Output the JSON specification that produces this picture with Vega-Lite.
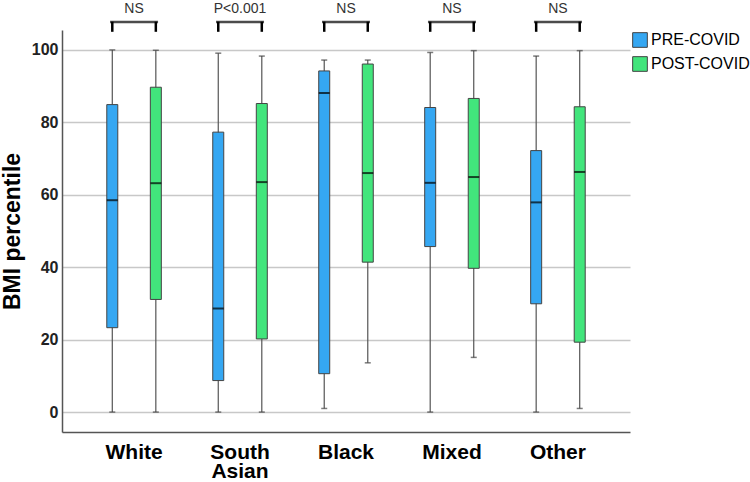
{
  "$schema": "https://vega.github.io/schema/vega-lite/v6.json",
  "width": 568,
  "height": 402,
  "autosize": "none",
  "padding": {"left": 62, "top": 30, "right": 120, "bottom": 50},
  "background": "white",
  "config": {
    "view": {"stroke": null},
    "font": "Liberation Sans"
  },
  "datasets": {
    "stats": [
      {"group": "White", "period": "PRE-COVID", "min": 0, "q1": 23.3, "median": 58.5, "q3": 84.9, "max": 100},
      {"group": "White", "period": "POST-COVID", "min": 0, "q1": 31.1, "median": 63.2, "q3": 89.7, "max": 99.9},
      {"group": "South Asian", "period": "PRE-COVID", "min": 0, "q1": 8.7, "median": 28.6, "q3": 77.3, "max": 99.1},
      {"group": "South Asian", "period": "POST-COVID", "min": 0, "q1": 20.2, "median": 63.5, "q3": 85.2, "max": 98.3},
      {"group": "Black", "period": "PRE-COVID", "min": 1.0, "q1": 10.6, "median": 88.1, "q3": 94.2, "max": 97.2},
      {"group": "Black", "period": "POST-COVID", "min": 13.6, "q1": 41.4, "median": 66.0, "q3": 96.1, "max": 97.2},
      {"group": "Mixed", "period": "PRE-COVID", "min": 0, "q1": 45.7, "median": 63.3, "q3": 84.1, "max": 99.3},
      {"group": "Mixed", "period": "POST-COVID", "min": 15.1, "q1": 39.7, "median": 64.9, "q3": 86.6, "max": 99.8},
      {"group": "Other", "period": "PRE-COVID", "min": 0, "q1": 29.9, "median": 57.9, "q3": 72.2, "max": 98.3},
      {"group": "Other", "period": "POST-COVID", "min": 1.0, "q1": 19.3, "median": 66.3, "q3": 84.3, "max": 99.8}
    ],
    "sig": [
      {"group": "White", "label": "NS"},
      {"group": "South Asian", "label": "P<0.001"},
      {"group": "Black", "label": "NS"},
      {"group": "Mixed", "label": "NS"},
      {"group": "Other", "label": "NS"}
    ]
  },
  "encoding": {
    "x": {
      "field": "group",
      "type": "nominal",
      "sort": ["White", "South Asian", "Black", "Mixed", "Other"],
      "scale": {"paddingInner": 0, "paddingOuter": 0.18},
      "axis": {
        "title": null,
        "labelAngle": 0,
        "labelFontSize": 21,
        "labelFontWeight": "bold",
        "labelColor": "black",
        "labelPadding": 9,
        "labelLineHeight": 19,
        "labelExpr": "split(datum.label, ' ')",
        "ticks": false,
        "domainColor": "#555555",
        "domainWidth": 1.5,
        "grid": false
      }
    }
  },
  "layer": [
    {
      "data": {"name": "stats"},
      "encoding": {
        "xOffset": {"field": "period", "type": "nominal", "sort": ["PRE-COVID", "POST-COVID"], "scale": {"paddingInner": 0, "paddingOuter": 0.217}}
      },
      "layer": [
        {
          "mark": {"type": "rule", "color": "#555555", "strokeWidth": 1.2},
          "encoding": {
            "y": {
              "field": "min",
              "type": "quantitative",
              "scale": {"domain": [-5.5, 105.5], "nice": false, "zero": false},
              "axis": {
                "values": [0, 20, 40, 60, 80, 100],
                "title": "BMI percentile",
                "titleFontSize": 23,
                "titleFontWeight": "bold",
                "titleColor": "black",
                "titlePadding": 7,
                "labelFontSize": 16,
                "labelFontWeight": "bold",
                "labelColor": "#222222",
                "labelPadding": 4,
                "ticks": false,
                "grid": true,
                "gridColor": "#c8c8c8",
                "gridWidth": 1.5,
                "domainColor": "#555555",
                "domainWidth": 1.5
              }
            },
            "y2": {"field": "max"}
          }
        },
        {
          "mark": {"type": "tick", "color": "#444444", "size": 6, "thickness": 1.5},
          "encoding": {"y": {"field": "max", "type": "quantitative"}}
        },
        {
          "mark": {"type": "tick", "color": "#444444", "size": 6, "thickness": 1.5},
          "encoding": {"y": {"field": "min", "type": "quantitative"}}
        },
        {
          "mark": {"type": "bar", "size": 11, "stroke": "#444444", "strokeWidth": 1},
          "encoding": {
            "y": {"field": "q1", "type": "quantitative"},
            "y2": {"field": "q3"},
            "color": {
              "field": "period",
              "type": "nominal",
              "sort": ["PRE-COVID", "POST-COVID"],
              "scale": {"domain": ["PRE-COVID", "POST-COVID"], "range": ["#35A7F2", "#42E57C"]},
              "legend": {
                "title": null,
                "orient": "none",
                "legendX": 570,
                "legendY": 2,
                "symbolType": "square",
                "symbolSize": 215,
                "symbolStrokeColor": "#444444",
                "symbolStrokeWidth": 1,
                "symbolOpacity": 1,
                "labelFontSize": 16,
                "labelColor": "black",
                "labelOffset": 3,
                "rowPadding": 4
              }
            }
          }
        },
        {
          "mark": {"type": "tick", "color": "black", "size": 11, "thickness": 2},
          "encoding": {"y": {"field": "median", "type": "quantitative"}}
        },
        {
          "mark": {"type": "rule", "color": "black", "strokeWidth": 2.5},
          "encoding": {"y": {"datum": 105.0}, "y2": {"datum": 107.8}}
        }
      ]
    },
    {
      "data": {"name": "sig"},
      "mark": {"type": "tick", "color": "black", "size": 48, "thickness": 2.5},
      "encoding": {"y": {"datum": 107.7}}
    },
    {
      "data": {"name": "sig"},
      "mark": {"type": "text", "font": "Liberation Sans", "fontSize": 14, "color": "#333333", "baseline": "middle"},
      "encoding": {"y": {"datum": 111.4}, "text": {"field": "label"}}
    }
  ]
}
